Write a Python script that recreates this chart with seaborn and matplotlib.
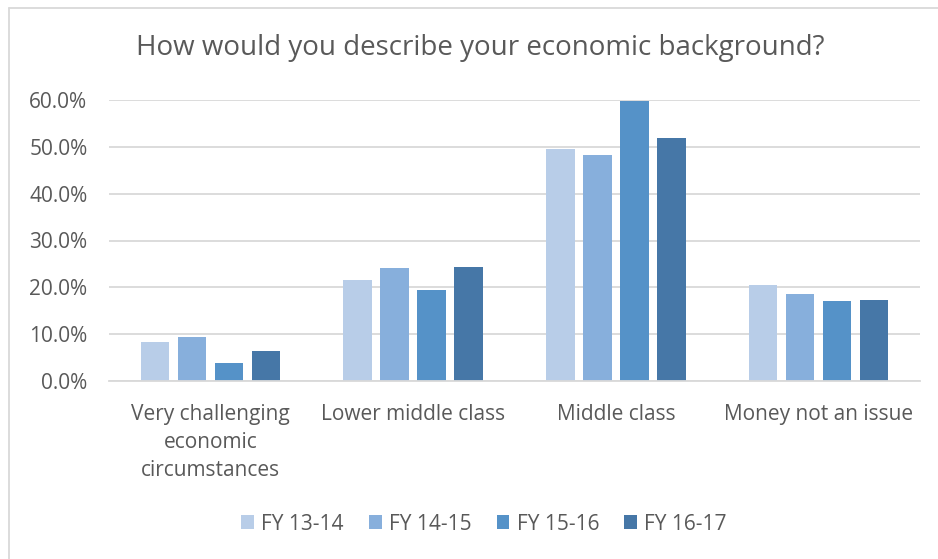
import matplotlib
matplotlib.use("Agg")
import matplotlib.pyplot as plt
import seaborn as sns
import pandas as pd
from matplotlib.lines import Line2D
from matplotlib.ticker import FuncFormatter

categories = ["Very challenging\neconomic\ncircumstances", "Lower middle class", "Middle class", "Money not an issue"]
years = ["FY 13-14", "FY 14-15", "FY 15-16", "FY 16-17"]
fy1314 = [8.4, 21.6, 49.5, 20.4]
fy1415 = [9.3, 24.1, 48.2, 18.6]
fy1516 = [3.8, 19.4, 59.8, 17.1]
fy1617 = [6.5, 24.3, 51.9, 17.2]
colors = ["#B8CDE8", "#87AFDC", "#5592C8", "#4677A7"]

rows = []
for yr, vals in zip(years, [fy1314, fy1415, fy1516, fy1617]):
    for c, v in zip(categories, vals):
        rows.append({"cat": c, "year": yr, "val": v / 100})
df = pd.DataFrame(rows)

sns.set_theme(style="white")
plt.rcParams['font.family'] = ['Open Sans', 'DejaVu Sans']
txt = "#595959"
fs = 15

W, H = 938, 559
fig = plt.figure(figsize=(W / 100, H / 100), dpi=100)
ax = fig.add_axes([109 / W, 1 - 381 / H, 811 / W, 281 / H])
sns.barplot(data=df, x="cat", y="val", hue="year", palette=colors, width=0.73,
            saturation=1, linewidth=0, ax=ax, legend=True)

# shrink each bar to leave white gaps between bars of a group
for p in ax.patches:
    w = p.get_width()
    if w > 0:
        nw = w * 0.776
        p.set_x(p.get_x() + (w - nw) / 2)
        p.set_width(nw)

ax.set_ylim(0, 0.6)
ax.set_yticks([0, 0.1, 0.2, 0.3, 0.4, 0.5, 0.6])
ax.yaxis.set_major_formatter(FuncFormatter(lambda v, p: f"{v*100:.1f}%"))
ax.grid(axis="y", color="#D9D9D9", linewidth=1.3)
ax.set_axisbelow(True)
for s in ["top", "right", "left"]:
    ax.spines[s].set_visible(False)
ax.spines["bottom"].set_color("#D9D9D9")
ax.spines["bottom"].set_linewidth(1.3)
ax.tick_params(axis="y", length=0, labelsize=fs, colors=txt, pad=15.5)
ax.tick_params(axis="x", length=0, labelsize=fs, colors=txt, pad=16.5)
ax.set_xlabel("")
ax.set_ylabel("")
for lab in ax.get_xticklabels():
    lab.set_verticalalignment("top")
    lab.set_linespacing(1.45)

fig.text(480 / W, 1 - 48 / H, "How would you describe your economic background?",
         ha="center", va="center", fontsize=20, color=txt)

h, l = ax.get_legend_handles_labels()
ax.get_legend().remove()
fig.legend(h, l, loc="center", bbox_to_anchor=(484 / W, 1 - 524 / H), ncol=4, frameon=False,
           fontsize=fs, labelcolor=txt, handlelength=0.61, handleheight=0.61,
           handletextpad=0.35, columnspacing=1.2)

fig.add_artist(Line2D([9 / W, 9 / W], [0, 1 - 7.5 / H], transform=fig.transFigure,
                      color="#D9D9D9", linewidth=1.3))
fig.add_artist(Line2D([9 / W, 1], [1 - 7.5 / H, 1 - 7.5 / H], transform=fig.transFigure,
                      color="#D9D9D9", linewidth=1.3))
fig.savefig("out.png", dpi=100)
